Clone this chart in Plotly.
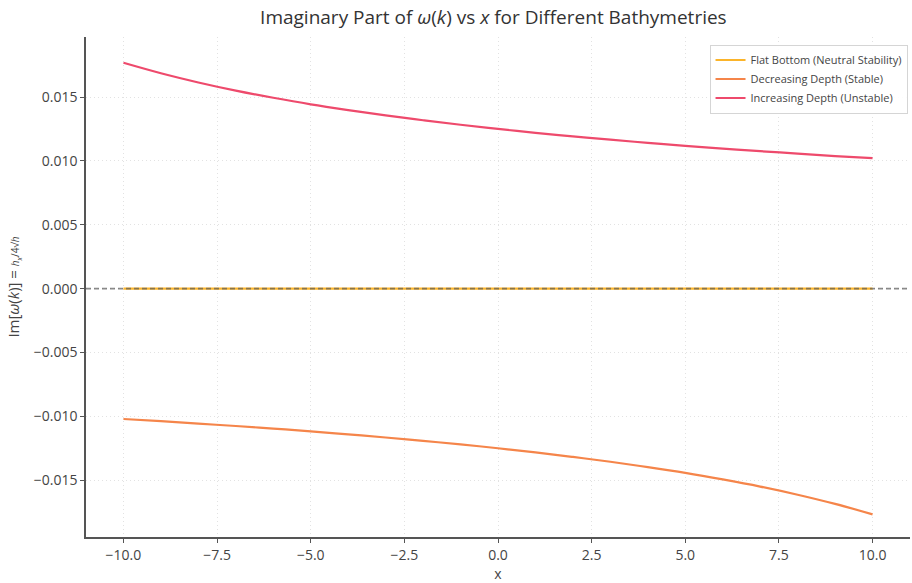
import plotly.graph_objects as go

# Sample positions along the shore (x) and the growth rate Im[w(k)] for each bathymetry
x_vals = [-10, -9, -8, -7, -6, -5, -4, -3, -2, -1, 0, 1, 2, 3, 4, 5, 6, 7, 8, 9, 10]
flat_bottom = [0.0] * 21
increasing_depth = [0.01768, 0.01686, 0.01614, 0.01550, 0.01494, 0.01443, 0.01398,
                    0.01356, 0.01318, 0.01283, 0.01250, 0.01220, 0.01192, 0.01166,
                    0.01141, 0.01118, 0.01096, 0.01076, 0.01057, 0.01038, 0.01021]
decreasing_depth = [-0.01021, -0.01038, -0.01057, -0.01076, -0.01096, -0.01118, -0.01141,
                    -0.01166, -0.01192, -0.01220, -0.01250, -0.01283, -0.01318, -0.01356,
                    -0.01398, -0.01443, -0.01494, -0.01550, -0.01614, -0.01686, -0.01768]

x_ticks = [-10, -7.5, -5, -2.5, 0, 2.5, 5, 7.5, 10]
y_ticks = [-0.015, -0.010, -0.005, 0.0, 0.005, 0.010, 0.015]

series = [
    ("Flat Bottom (Neutral Stability)", flat_bottom, "#fbb42a"),
    ("Decreasing Depth (Stable)", decreasing_depth, "#f5854a"),
    ("Increasing Depth (Unstable)", increasing_depth, "#ee4a6c"),
]

font_family = "Open Sans, DejaVu Sans, sans-serif"

fig = go.Figure()
for name, vals, color in series:
    fig.add_trace(go.Scatter(x=x_vals, y=vals, mode="lines", name=name,
                             line=dict(color=color, width=2.2, shape="spline")))

# Reference line at zero
fig.add_shape(type="line", xref="paper", x0=0, x1=1, yref="y", y0=0, y1=0,
              line=dict(color="rgba(90,90,90,0.7)", width=1.6, dash="5px,3px"), layer="above")

axis_common = dict(
    showline=True, linecolor="#555555", linewidth=1.5, mirror=False,
    ticks="outside", ticklen=4, tickcolor="#555555", tickwidth=1,
    showgrid=True, gridcolor="#e2e2e2", griddash="1px,3px", gridwidth=1,
    zeroline=False, tickfont=dict(size=14, color="#444444"),
)

fig.update_layout(
    width=912, height=583,
    margin=dict(l=86, r=2, t=37, b=43),
    paper_bgcolor="white", plot_bgcolor="white",
    font=dict(family=font_family, color="#444444"),
    title=dict(text="Imaginary Part of <i>ω</i>(<i>k</i>) vs <i>x</i> for Different Bathymetries",
               x=0.541, xanchor="center", y=0.97, yanchor="middle",
               font=dict(size=19, color="#333333")),
    xaxis=dict(range=[-11, 11], tickvals=x_ticks, tickformat=".1f",
               title=dict(text="x", font=dict(size=14, color="#444444"), standoff=8),
               **axis_common),
    yaxis=dict(range=[-0.01945, 0.0197], tickvals=y_ticks, tickformat=".3f",
               title=dict(text="Im[<i>ω</i>(<i>k</i>)] = <span style='font-size:10px'><i>h<sub>x</sub></i>/4√<i>h</i></span>",
                          font=dict(size=15, color="#444444"), standoff=10),
               **axis_common),
    legend=dict(x=0.997, xanchor="right", y=0.985, yanchor="top",
                bgcolor="rgba(255,255,255,0.9)", bordercolor="#d5d5d5", borderwidth=1,
                font=dict(size=11, color="#444444"), tracegroupgap=0, itemwidth=30),
    showlegend=True,
)

fig.write_html("out.html")
